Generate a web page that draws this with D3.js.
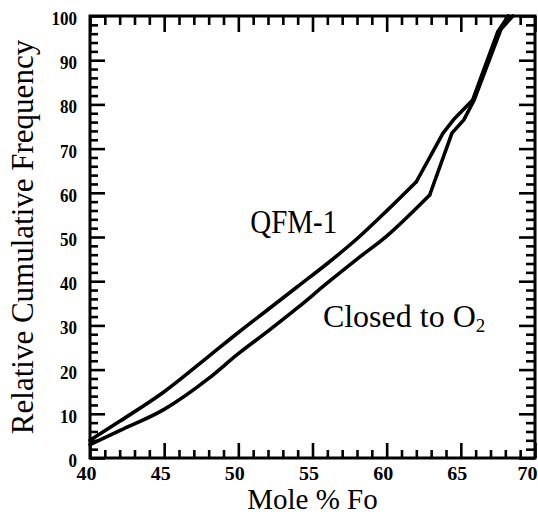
<!DOCTYPE html>
<html>
<head>
<meta charset="utf-8">
<script src="https://cdn.jsdelivr.net/npm/d3@7"></script>
<style>
  html, body { margin: 0; padding: 0; background: #fff; }
  svg { display: block; }
</style>
</head>
<body>
<svg id="chart" width="538" height="516"></svg>
<script>
// ---- data ----
const foQFM      = [40, 42, 45, 48, 50, 52, 54, 56, 58, 60, 62, 63.8, 64.5, 65.8, 67.5, 68.2];
const freqQFM    = [4, 8.3, 15, 23, 28.4, 33.6, 38.8, 44, 49.6, 55.9, 62.5, 73.5, 76.5, 81, 96.5, 100];
const foClosed   = [40, 42, 45, 48, 50, 52, 54, 56, 58, 60, 62, 62.9, 64.4, 65.2, 65.9, 67.7, 68.5];
const freqClosed = [3, 6.2, 11, 18, 23.6, 28.7, 34, 39.6, 45, 50.2, 56.5, 59.5, 73.5, 76.5, 81, 97, 100];
// Fo value after which each curve is drawn as straight segments (sharp kinks)
const kinkQFM = 62, kinkClosed = 62.9;

const xTicks = [40, 45, 50, 55, 60, 65, 70];
const yTicks = [0, 10, 20, 30, 40, 50, 60, 70, 80, 90, 100];
const xLabel = "Mole % Fo";
const yLabel = "Relative Cumulative Frequency";

// ---- layout ----
const svg = d3.select("#chart");
const L = 90, R = 535, T = 16, B = 458;
const x = d3.scaleLinear().domain([40, 70]).range([L, R]);
const y = d3.scaleLinear().domain([0, 100]).range([B, T]);

const xMinor = d3.range(40, 70.001, 1).filter(v => v % 5 !== 0);
const yMinor = d3.range(0, 100.001, 2).filter(v => v % 10 !== 0);

const serif = "'Liberation Serif', 'Times New Roman', serif";

function styleAxis(g) {
  g.select(".domain").remove();
  g.selectAll(".tick line").attr("stroke", "#000").attr("stroke-width", 2.6);
}

// bottom major
const gB = svg.append("g").attr("transform", `translate(0,${B})`)
  .call(d3.axisBottom(x).tickValues(xTicks).tickSize(-15).tickPadding(0).tickFormat(d3.format("d")))
  .call(styleAxis);
gB.selectAll(".tick text")
  .attr("font-family", serif).attr("font-weight", "bold").attr("font-size", 19)
  .attr("fill", "#000").attr("dy", null).attr("y", 22).attr("dx", d => d === 70 ? -8 : -4)
  .attr("textLength", 20).attr("lengthAdjust", "spacingAndGlyphs");
// bottom minor
svg.append("g").attr("transform", `translate(0,${B})`)
  .call(d3.axisBottom(x).tickValues(xMinor).tickSize(-8).tickFormat(""))
  .call(styleAxis);

// top
svg.append("g").attr("transform", `translate(0,${T})`)
  .call(d3.axisTop(x).tickValues(xTicks).tickSize(-16).tickFormat(""))
  .call(styleAxis);
svg.append("g").attr("transform", `translate(0,${T})`)
  .call(d3.axisTop(x).tickValues(xMinor).tickSize(-9).tickFormat(""))
  .call(styleAxis);

// left major
const gL = svg.append("g").attr("transform", `translate(${L},0)`)
  .call(d3.axisLeft(y).tickValues(yTicks).tickSize(-15).tickPadding(13).tickFormat(d3.format("d")))
  .call(styleAxis);
gL.selectAll(".tick text")
  .attr("font-family", serif).attr("font-weight", "bold").attr("font-size", 19)
  .attr("fill", "#000").attr("dy", "0.45em")
  .attr("textLength", d => String(d).length * 8.5).attr("lengthAdjust", "spacingAndGlyphs");
svg.append("g").attr("transform", `translate(${L},0)`)
  .call(d3.axisLeft(y).tickValues(yMinor).tickSize(-8).tickFormat(""))
  .call(styleAxis);

// right
svg.append("g").attr("transform", `translate(${R},0)`)
  .call(d3.axisRight(y).tickValues(yTicks).tickSize(-16).tickFormat(""))
  .call(styleAxis);
svg.append("g").attr("transform", `translate(${R},0)`)
  .call(d3.axisRight(y).tickValues(yMinor).tickSize(-9).tickFormat(""))
  .call(styleAxis);

// frame
svg.append("rect")
  .attr("x", L).attr("y", T).attr("width", R - L).attr("height", B - T)
  .attr("fill", "none").attr("stroke", "#000").attr("stroke-width", 3);

// curves: smooth lower part, straight segments from the kink upward
const smooth = d3.line().x(d => x(d[0])).y(d => y(d[1])).curve(d3.curveMonotoneX);
const straight = d3.line().x(d => x(d[0])).y(d => y(d[1])).curve(d3.curveLinear);
function drawSeries(fo, freq, kink) {
  const pts = fo.map((f, i) => [f, freq[i]]);
  const low = pts.filter(p => p[0] <= kink);
  const high = pts.filter(p => p[0] >= low[low.length - 2][0]);
  const hi = [low[low.length - 1], ...pts.filter(p => p[0] > kink)];
  [[smooth, low], [straight, hi]].forEach(([gen, data]) => {
    svg.append("path").datum(data).attr("d", gen)
      .attr("fill", "none").attr("stroke", "#000").attr("stroke-width", 3.6)
      .attr("stroke-linejoin", "round").attr("stroke-linecap", "round");
  });
}
drawSeries(foQFM, freqQFM, kinkQFM);
drawSeries(foClosed, freqClosed, kinkClosed);

// annotations
svg.append("text")
  .attr("x", x(50.8)).attr("y", y(50.9))
  .attr("font-family", serif).attr("font-size", 33).attr("fill", "#000")
  .attr("textLength", 87).attr("lengthAdjust", "spacingAndGlyphs")
  .text("QFM-1");

const tc = svg.append("text")
  .attr("x", x(55.7)).attr("y", y(29.6))
  .attr("font-family", serif).attr("font-size", 32).attr("fill", "#000");
tc.append("tspan").text("Closed to O");
tc.append("tspan").attr("font-size", 19).attr("dy", 5).text("2");

// axis titles
svg.append("text")
  .attr("x", (L + R) / 2).attr("y", 509)
  .attr("text-anchor", "middle")
  .attr("font-family", serif).attr("font-size", 29).attr("fill", "#000")
  .text(xLabel);

svg.append("text")
  .attr("transform", `translate(33,${(T + B) / 2}) rotate(-90)`)
  .attr("text-anchor", "middle")
  .attr("font-family", serif).attr("font-size", 31).attr("fill", "#000")
  .text(yLabel);
</script>
</body>
</html>
